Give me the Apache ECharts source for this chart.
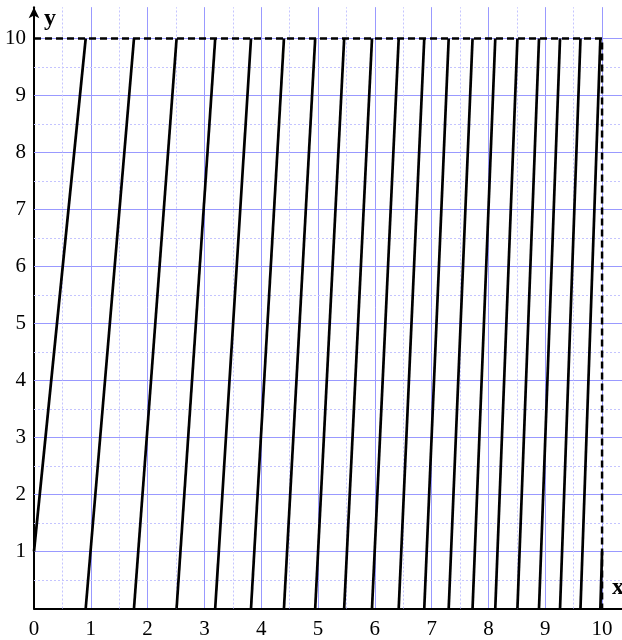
<!DOCTYPE html>
<html>
<head>
<meta charset="utf-8">
<script src="https://cdn.jsdelivr.net/npm/echarts@6/dist/echarts.min.js"></script>
<style>
html, body { margin: 0; padding: 0; background: #fff; }
#container { width: 622px; height: 640px; }
</style>
</head>
<body>
<div id="container"></div>
<script>
// x values where the curve reaches y = 10 and wraps back to y = 0
var wrapX = [0.91, 1.76, 2.51, 3.19, 3.82, 4.40, 4.95, 5.46, 5.95, 6.42,
             6.87, 7.30, 7.72, 8.12, 8.51, 8.89, 9.26, 9.62, 9.97];
var startPoint = [0, 1];     // curve at x = 0
var endPoint = [10, 1];      // curve at x = 10
var yTop = 10;
var boxCorners = [[0, 10], [10, 10], [10, 0]];   // dashed frame
var majorTicks = [1, 2, 3, 4, 5, 6, 7, 8, 9, 10];
var minorTicks = [0.5, 1.5, 2.5, 3.5, 4.5, 5.5, 6.5, 7.5, 8.5, 9.5];

var dom = document.getElementById("container");
var myChart = echarts.init(dom, null, { renderer: 'canvas' });

// one straight piece per branch
var segments = [];
var prev = startPoint;
wrapX.forEach(function (x) {
    segments.push({ coords: [prev, [x, yTop]] });
    prev = [x, 0];
});
segments.push({ coords: [prev, endPoint] });

function majorStyle() { return { color: '#9999ff', width: 1, type: 'solid', opacity: 1 }; }
function minorStyle() { return { color: '#c4c4ff', width: 1, type: [2, 2], opacity: 1 }; }
var gridLines = [];
majorTicks.forEach(function (v) {
    gridLines.push({ yAxis: v, lineStyle: majorStyle() });
});
minorTicks.forEach(function (v) {
    gridLines.push({ xAxis: v, lineStyle: minorStyle() });
    gridLines.push({ yAxis: v, lineStyle: minorStyle() });
});

var labelFont = {
    fontFamily: 'Liberation Serif',
    fontSize: 21,
    color: '#000'
};

var option = {
    animation: false,
    // 57px per unit on both axes; grid runs 2px past the right edge
    grid: { left: 34, right: -2, top: 7.15, bottom: 31.5 },
    xAxis: {
        type: 'value',
        min: 0,
        max: 590 / 57,
        interval: 1,
        splitLine: { show: true, lineStyle: { color: '#9999ff', width: 1 } },
        axisTick: { show: false },
        axisLine: { onZero: false, lineStyle: { color: '#000', width: 2 } },
        axisLabel: Object.assign({
            margin: 10,
            showMaxLabel: false,
            formatter: function (v) { return Number.isInteger(v) ? String(v) : ''; }
        }, labelFont)
    },
    yAxis: {
        type: 'value',
        min: 0,
        max: 10.55,
        interval: 1,
        splitLine: { show: false },
        axisTick: { show: false },
        axisLine: {
            onZero: false,
            symbol: ['none', 'arrow'],
            symbolSize: [8, 11],
            lineStyle: { color: '#000', width: 2 }
        },
        axisLabel: Object.assign({
            margin: 8,
            showMaxLabel: false,
            formatter: function (v) { return (Number.isInteger(v) && v > 0) ? String(v) : ''; }
        }, labelFont)
    },
    graphic: [
        {
            type: 'text', left: 44, top: 7,
            style: { text: 'y', font: 'bold 24px "Liberation Serif"', fill: '#000' }
        },
        {
            type: 'text', left: 612, top: 576,
            style: { text: 'x', font: 'bold 24px "Liberation Serif"', fill: '#000' }
        }
    ],
    series: [
        {
            name: 'frame',
            type: 'line',
            data: boxCorners,
            symbol: 'none',
            z: 3,
            lineStyle: { color: '#000', width: 2.5, type: [7, 4] },
            markLine: {
                silent: true,
                symbol: ['none', 'none'],
                label: { show: false },
                emphasis: { disabled: true },
                z: 1,
                data: gridLines
            }
        },
        {
            name: 'curve',
            type: 'lines',
            coordinateSystem: 'cartesian2d',
            z: 4,
            lineStyle: { color: '#000', width: 2.7, opacity: 1 },
            data: segments
        }
    ]
};

if (option && typeof option === "object") {
    myChart.setOption(option, true);
}
</script>
</body>
</html>
